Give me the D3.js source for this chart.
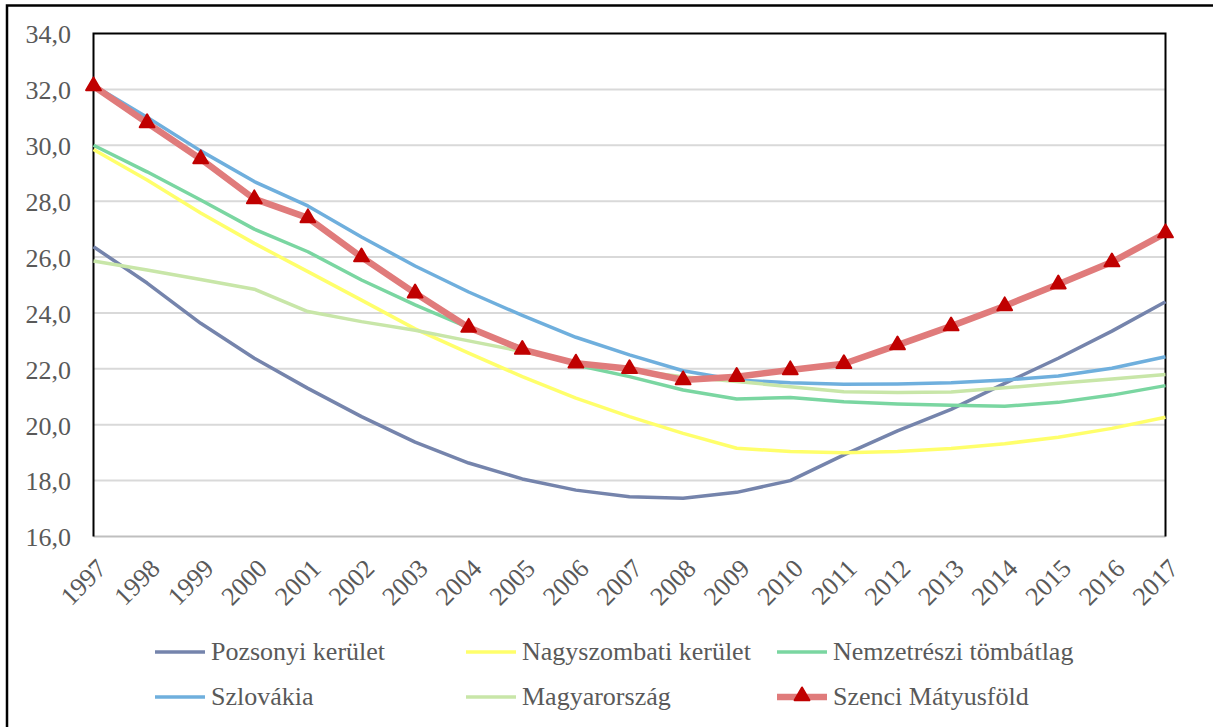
<!DOCTYPE html>
<html>
<head>
<meta charset="utf-8">
<script src="https://cdn.jsdelivr.net/npm/d3@7"></script>
<style>
  html, body { margin: 0; padding: 0; background: #fff; }
  svg { display: block; }
  text { font-family: "Liberation Serif", "Times New Roman", serif; fill: #595959; }
</style>
</head>
<body>
<svg id="chart" width="1213" height="727"></svg>
<script>
const years = ["1997","1998","1999","2000","2001","2002","2003","2004","2005","2006","2007","2008","2009","2010","2011","2012","2013","2014","2015","2016","2017"];
const yTicks = [16, 18, 20, 22, 24, 26, 28, 30, 32, 34];

const pozsonyi     = [26.37, 25.07, 23.63, 22.38, 21.30, 20.29, 19.38, 18.63, 18.06, 17.66, 17.42, 17.37, 17.58, 18.00, 18.92, 19.78, 20.55, 21.48, 22.38, 23.35, 24.40];
const nagyszombati = [29.85, 28.76, 27.58, 26.49, 25.48, 24.46, 23.43, 22.56, 21.72, 20.95, 20.29, 19.69, 19.16, 19.04, 19.00, 19.04, 19.15, 19.32, 19.55, 19.87, 20.27];
const nemzetreszi  = [30.00, 29.05, 28.04, 27.00, 26.19, 25.18, 24.29, 23.47, 22.74, 22.14, 21.72, 21.24, 20.92, 20.97, 20.82, 20.74, 20.70, 20.66, 20.80, 21.06, 21.40];
const szlovakia    = [32.15, 31.00, 29.80, 28.70, 27.83, 26.72, 25.68, 24.75, 23.91, 23.13, 22.50, 21.93, 21.60, 21.50, 21.45, 21.46, 21.50, 21.60, 21.74, 22.02, 22.43];
const magyarorszag = [25.86, 25.54, 25.20, 24.85, 24.05, 23.69, 23.38, 23.00, 22.62, 22.22, 21.95, 21.72, 21.55, 21.36, 21.18, 21.15, 21.17, 21.32, 21.48, 21.64, 21.80];
const szenci       = [32.12, 30.80, 29.51, 28.08, 27.40, 26.00, 24.71, 23.48, 22.69, 22.20, 22.00, 21.60, 21.72, 21.96, 22.18, 22.85, 23.53, 24.25, 25.03, 25.82, 26.86];

const seriesNames  = ["Pozsonyi kerület", "Nagyszombati kerület", "Nemzetrészi tömbátlag", "Szlovákia", "Magyarország", "Szenci Mátyusföld"];
const seriesColors = ["#7584AC", "#FFFF6B", "#7AD6A1", "#6FAFDD", "#C8E6A8", "#E07B7B"];
const seriesValues = [pozsonyi, nagyszombati, nemzetreszi, szlovakia, magyarorszag, szenci];

(function () {
const svg = d3.select("#chart");
const pLeft = 93.5, pRight = 1165.5, pTop = 33.5, pBottom = 536.5;
const fs = 26;

const x = d3.scalePoint().domain(years).range([pLeft, pRight]);
const y = d3.scaleLinear().domain([16, 34]).range([pBottom, pTop]);

// outer border
svg.append("path").attr("d", `M7,730 L7,5.5 L1220,5.5`).attr("fill", "none").attr("stroke", "#000").attr("stroke-width", 2.5);

// gridlines
svg.append("g").selectAll("line").data(yTicks.filter(t => t !== 34)).join("line")
  .attr("x1", pLeft).attr("x2", pRight)
  .attr("y1", d => y(d)).attr("y2", d => y(d))
  .attr("stroke", d => d === 16 ? "#bfbfbf" : "#d9d9d9").attr("stroke-width", 2);

// plot frame (top, left, right)
svg.append("path").attr("d", `M${pLeft},${pBottom} L${pLeft},${pTop} L${pRight},${pTop} L${pRight},${pBottom}`)
  .attr("fill", "none").attr("stroke", "#000").attr("stroke-width", 2);

// y axis labels
const fmt = v => d3.format(".1f")(v).replace(".", ",");
svg.append("g").selectAll("text").data(yTicks).join("text")
  .attr("x", 71).attr("y", d => y(d)).attr("dy", "0.38em")
  .attr("text-anchor", "end").attr("font-size", fs)
  .text(fmt);

// x axis labels
svg.append("g").selectAll("text").data(years).join("text")
  .attr("transform", d => `translate(${x(d) + 8},${pBottom + 27}) rotate(-45)`)
  .attr("text-anchor", "end").attr("dy", "0.35em").attr("font-size", fs)
  .text(d => d);

// lines
const line = d3.line().x((d, i) => x(years[i])).y(d => y(d));
seriesValues.forEach((vals, k) => {
  svg.append("path").datum(vals)
    .attr("fill", "none")
    .attr("stroke", seriesColors[k])
    .attr("stroke-width", k === 5 ? 6.5 : 3.5)
    .attr("stroke-linejoin", "round")
    .attr("d", line);
});

// markers
const tri = d3.symbol().type(d3.symbolTriangle).size(95);
svg.append("g").selectAll("path").data(szenci).join("path")
  .attr("transform", (d, i) => `translate(${x(years[i])},${y(d)})`)
  .attr("d", tri)
  .attr("fill", "#C00000").attr("stroke", "#C00000").attr("stroke-width", 2).attr("stroke-linejoin", "round");

// legend
const legX = [155, 466, 777];
const legY = [652, 697];
seriesNames.forEach((name, k) => {
  const lx = legX[k % 3], ly = legY[Math.floor(k / 3)];
  const g = svg.append("g");
  g.append("line").attr("x1", lx).attr("x2", lx + 50).attr("y1", ly).attr("y2", ly)
    .attr("stroke", seriesColors[k]).attr("stroke-width", k === 5 ? 6.5 : 3.5);
  if (k === 5) {
    g.append("path").attr("transform", `translate(${lx + 25},${ly - 1})`).attr("d", tri)
      .attr("fill", "#C00000").attr("stroke", "#C00000").attr("stroke-width", 2).attr("stroke-linejoin", "round");
  }
  g.append("text").attr("x", lx + 56).attr("y", ly).attr("dy", "0.3em").attr("font-size", fs).text(name);
});
})();
</script>
</body>
</html>
